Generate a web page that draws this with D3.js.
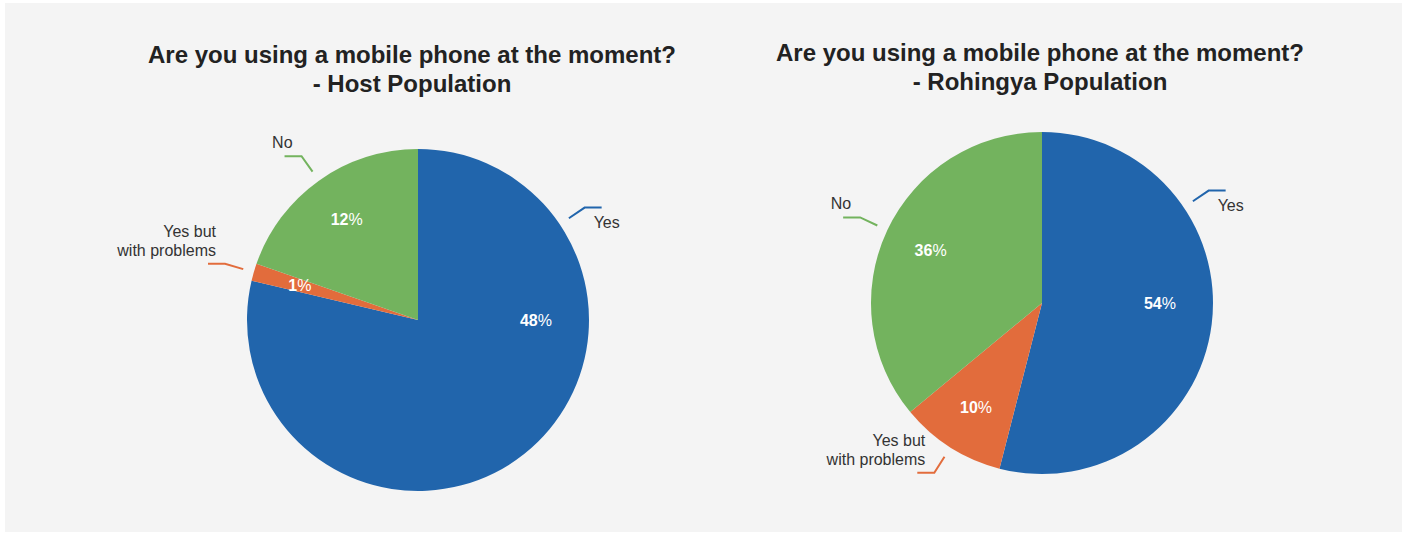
<!DOCTYPE html>
<html>
<head>
<meta charset="utf-8">
<script src="https://cdn.jsdelivr.net/npm/d3@7/dist/d3.min.js"></script>
<style>
  html, body { margin: 0; padding: 0; background: #ffffff; }
  svg { display: block; font-family: "Liberation Sans", Arial, Helvetica, sans-serif; }
</style>
</head>
<body>
<svg id="chart" width="1407" height="535"></svg>
<script>
// Survey answers, shared by both pies
const categories = ["Yes", "Yes but with problems", "No"];
const categoryLines = [["Yes"], ["Yes but", "with problems"], ["No"]];

// Percent of respondents per answer
const hostValues = [48, 1, 12];
const rohingyaValues = [54, 10, 36];

const titleQuestion = "Are you using a mobile phone at the moment?";
const hostTitle = "- Host Population";
const rohingyaTitle = "- Rohingya Population";

// Styling
const colors = d3.scaleOrdinal().domain(categories).range(["#2165ac", "#e26c3c", "#73b35e"]);
const radius = 171;

const svg = d3.select("#chart");

// light grey card behind both charts
svg.append("rect")
  .attr("x", 5).attr("y", 3)
  .attr("width", 1397).attr("height", 529)
  .attr("fill", "#f4f4f4");

const panels = [
  { values: hostValues, subtitle: hostTitle, cx: 418, cy: 320, tx: 412, ty: 63 },
  { values: rohingyaValues, subtitle: rohingyaTitle, cx: 1042, cy: 303, tx: 1040, ty: 61 }
];

const pie = d3.pie().sort(null).value(d => d.value).startAngle(0).endAngle(2 * Math.PI);
const arc = d3.arc().innerRadius(0).outerRadius(radius);
const labelArc = d3.arc().innerRadius(radius * 0.72).outerRadius(radius * 0.72);

function polar(cx, cy, r, a) {
  return [cx + r * Math.sin(a), cy - r * Math.cos(a)];
}

panels.forEach(p => {
  const g = svg.append("g");

  // two-line centred title
  const title = g.append("text")
    .attr("text-anchor", "middle")
    .attr("font-size", 24)
    .attr("font-weight", "bold")
    .attr("fill", "#222");
  title.append("tspan").attr("x", p.tx).attr("y", p.ty).text(titleQuestion);
  title.append("tspan").attr("x", p.tx).attr("y", p.ty + 29).text(p.subtitle);

  const data = categories.map((c, i) => ({ category: c, lines: categoryLines[i], value: p.values[i] }));
  const arcs = pie(data);

  const pieG = g.append("g").attr("transform", `translate(${p.cx},${p.cy})`);

  pieG.selectAll("path.slice")
    .data(arcs)
    .join("path")
    .attr("class", "slice")
    .attr("d", arc)
    .attr("fill", d => colors(d.data.category));

  // a slice wider than a half-turn keeps its labels on the upper right side
  const isWide = d => d.endAngle - d.startAngle > Math.PI;

  // value labels inside the slices
  const vl = pieG.selectAll("text.value")
    .data(arcs)
    .join("text")
    .attr("class", "value")
    .attr("transform", d => {
      if (isWide(d)) {
        const q = polar(0, 0, radius * 0.69, Math.PI / 2);
        return `translate(${q[0]},${q[1]})`;
      }
      const c = labelArc.centroid(d);
      return `translate(${c[0]},${c[1]})`;
    })
    .attr("text-anchor", "middle")
    .attr("dy", "0.35em")
    .attr("font-size", 16)
    .attr("fill", "#ffffff");
  vl.append("tspan").attr("font-weight", "bold").text(d => d.data.value);
  vl.append("tspan").text("%");

  // category callouts with a bent leader line
  arcs.forEach(d => {
    const color = colors(d.data.category);
    const a = isWide(d) ? 56 * Math.PI / 180 : (d.startAngle + d.endAngle) / 2;
    const right = Math.sin(a) >= 0;
    const p0 = polar(p.cx, p.cy, radius + 11, a);
    const p1 = polar(p.cx, p.cy, radius + 30, a);
    const p2 = [p1[0] + (right ? 17 : -17), p1[1]];

    g.append("path")
      .attr("d", d3.line()([p0, p1, p2]))
      .attr("fill", "none")
      .attr("stroke", color)
      .attr("stroke-width", 2);

    const lines = d.data.lines;
    const t = g.append("text")
      .attr("font-size", 16)
      .attr("fill", "#333")
      .attr("text-anchor", right ? "start" : "end");
    lines.forEach((ln, i) => {
      const y = right ? p2[1] + 20 + i * 19 : p2[1] - 8 - (lines.length - 1 - i) * 19;
      t.append("tspan")
        .attr("x", right ? p2[0] - 8 : p2[0] + 8)
        .attr("y", y)
        .text(ln);
    });
  });
});
</script>
</body>
</html>
